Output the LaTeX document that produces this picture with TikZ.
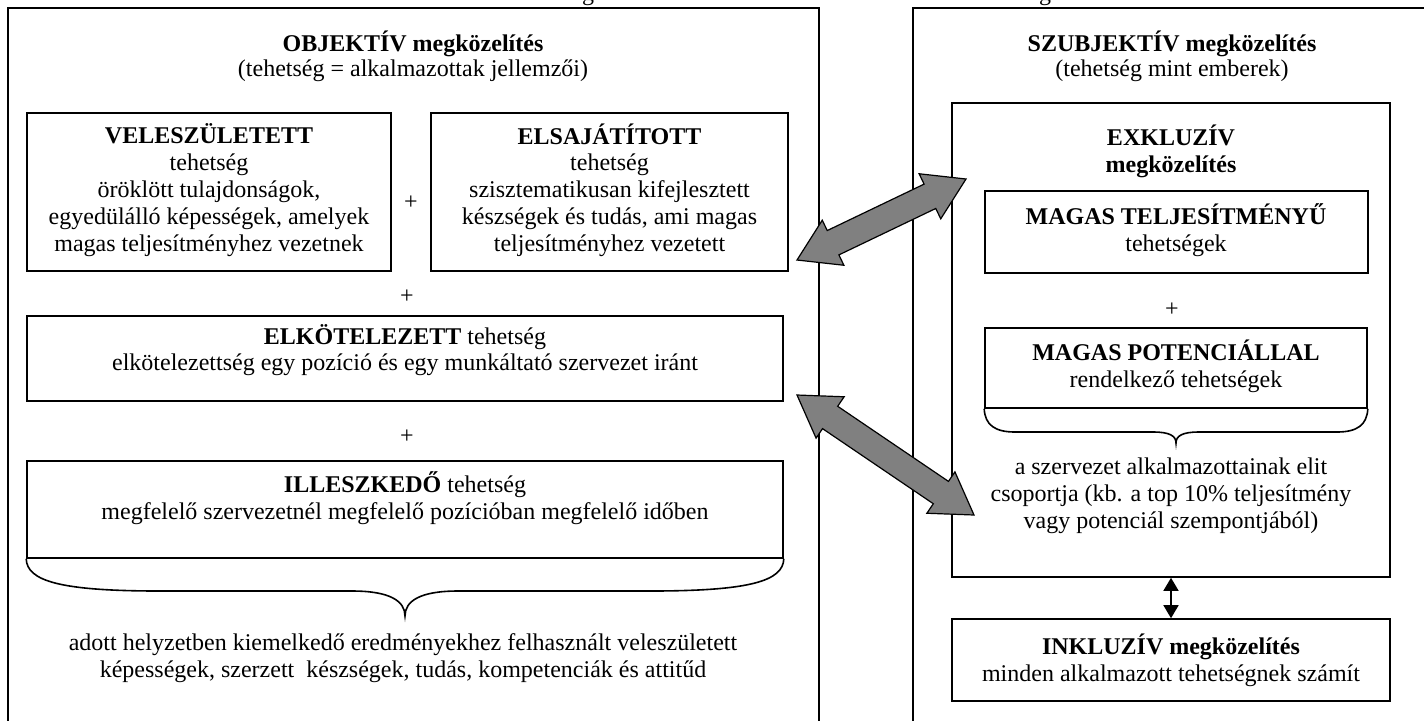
\documentclass[tikz,border=0pt]{standalone}
\usepackage{fontspec}
\setmainfont{Liberation Serif}
\usetikzlibrary{calc,fit,arrows.meta}
\definecolor{arrowgray}{RGB}{128,128,128}

% double-headed block arrow between two named points
\newcommand\dblblockarrow[2]{%
  \coordinate (h1) at ($(#1)!20pt!(#2)$);
  \coordinate (h2) at ($(#2)!20pt!(#1)$);
  \draw[blockarrow] (#1) -- ($(h1)!12.5pt!90:(#2)$) -- ($(h1)!6.75pt!90:(#2)$)
    -- ($(h2)!6.75pt!-90:(#1)$) -- ($(h2)!12.5pt!-90:(#1)$) -- (#2)
    -- ($(h2)!12.5pt!90:(#1)$) -- ($(h2)!6.75pt!90:(#1)$)
    -- ($(h1)!6.75pt!-90:(#2)$) -- ($(h1)!12.5pt!-90:(#2)$) -- cycle;}

\begin{document}
\begin{tikzpicture}[x=0.5pt,y=-0.5pt,
  outer/.style={draw=black,line width=1pt,inner sep=0pt},
  box/.style={draw=black,line width=0.8pt,inner sep=0pt},
  txt/.style={align=center,inner sep=0pt,font=\fontsize{12}{13.4}\selectfont},
  plus/.style={inner sep=0pt,font=\fontsize{12}{13.4}\selectfont},
  brace/.style={draw=black,line width=0.8pt},
  blockarrow/.style={draw=black,line width=0.6pt,fill=arrowgray,line join=miter},
  thinarrow/.style={draw=black,line width=0.8pt,
    {Triangle[length=6.5pt,width=7.5pt]}-{Triangle[length=6.5pt,width=7.5pt]}}
]
\path[use as bounding box,clip] (0,0) rectangle (1424,720);

% tails of the heading line above the panels
\node[txt,anchor=base] (g1) at (588,0) {g};
\node[txt,anchor=base] (g2) at (1045,0) {g};

% ---------- objective panel ----------
\node[outer,fit={(8,8) (819,760)}] (left) {};
\node[txt] (ltitle) at (413,44) {\textbf{OBJEKTÍV megközelítés}};
\node[txt] (lsub) at (413,71) {(tehetség = alkalmazottak jellemzői)};

\node[box,fit={(27,113) (391,271)}] (vel) {};
\node[txt] (veltext) at (209,190) {\textbf{VELESZÜLETETT}\\tehetség\\öröklött tulajdonságok,\\egyedülálló képességek, amelyek\\magas teljesítményhez vezetnek};

\node[box,fit={(431,113) (788,271)}] (els) {};
\node[txt] (elstext) at (609.5,190) {\textbf{ELSAJÁTÍTOTT}\\tehetség\\szisztematikusan kifejlesztett\\készségek és tudás, ami magas\\teljesítményhez vezetett};

\node[plus] (p1) at (411,203) {+};
\node[plus] (p2) at (407,297) {+};

\node[box,fit={(27,316) (783,401)}] (elk) {};
\node[txt] (elktext) at (405,350) {\textbf{ELKÖTELEZETT} tehetség\\elkötelezettség egy pozíció és egy munkáltató szervezet iránt};

\node[plus] (p3) at (407,437) {+};

\node[box,fit={(27,461) (783,558)}] (ill) {};
\node[txt] (illtext) at (405,498) {\textbf{ILLESZKEDŐ} tehetség\\megfelelő szervezetnél megfelelő pozícióban megfelelő időben};

\draw[brace] (ill.south west) .. controls (27,581) and (60,591) .. (160,591)
  -- (352,591) .. controls (390,591) and (405,601) .. (405,616)
  .. controls (405,601) and (420,591) .. (458,591) -- (650,591)
  .. controls (750,591) and (783,581) .. (ill.south east);

\node[txt] (sum) at (403,658) {adott helyzetben kiemelkedő eredményekhez felhasznált veleszületett\\képességek, szerzett\ \ készségek, tudás, kompetenciák és attitűd};

% ---------- subjective panel ----------
\node[outer,fit={(913,8) (1460,760)}] (right) {};
\node[txt] (rtitle) at (1172,44) {\textbf{SZUBJEKTÍV megközelítés}};
\node[txt] (rsub) at (1172,71) {(tehetség mint emberek)};

\node[box,fit={(952,103) (1390,577)}] (exc) {};
\node[txt] (exctext) at (1171,151) {\textbf{EXKLUZÍV}\\\textbf{megközelítés}};

\node[box,fit={(985,191) (1368,273)}] (high) {};
\node[txt] (hightext) at (1176,230) {\textbf{MAGAS TELJESÍTMÉNYŰ}\\tehetségek};

\node[plus] (p4) at (1172,310) {+};

\node[box,fit={(985,328) (1367,408)}] (pot) {};
\node[txt] (pottext) at (1176,366) {\textbf{MAGAS POTENCIÁLLAL}\\rendelkező tehetségek};

\draw[brace] (pot.south west) .. controls (985,425) and (995,432) .. (1015,432)
  -- (1153,432) .. controls (1170,432) and (1176,436) .. (1176,443)
  .. controls (1176,436) and (1182,432) .. (1199,432) -- (1337,432)
  .. controls (1357,432) and (1367,425) .. (pot.south east);

\node[txt] (elite) at (1171,496) {a szervezet alkalmazottainak elit\\csoportja (kb. a top 10\% teljesítmény\\vagy potenciál szempontjából)};

\node[box,fit={(952,619) (1390,701)}] (inc) {};
\node[txt] (inctext) at (1171,660) {\textbf{INKLUZÍV megközelítés}\\minden alkalmazott tehetségnek számít};

\draw[thinarrow] (exc.south) -- (inc.north);

% ---------- links between the panels ----------
\coordinate (a1l) at (797,260);
\coordinate (a1r) at (966,179);
\coordinate (a2l) at (797,395);
\coordinate (a2r) at (974,515);
\dblblockarrow{a1l}{a1r}
\dblblockarrow{a2l}{a2r}
\end{tikzpicture}
\end{document}
